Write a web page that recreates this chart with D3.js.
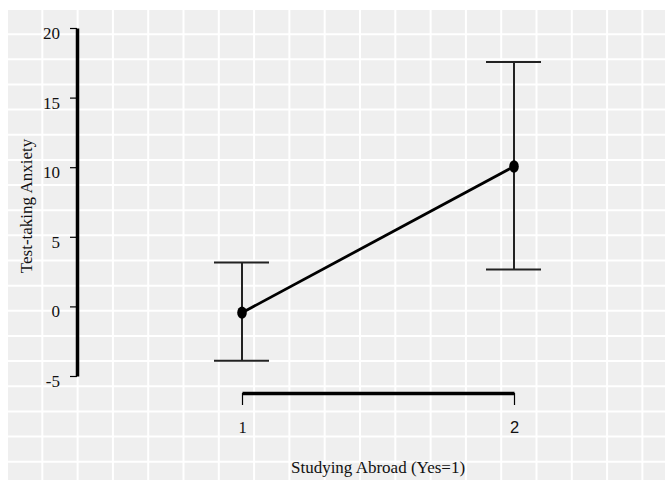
<!DOCTYPE html>
<html>
<head>
<meta charset="utf-8">
<script src="https://cdn.jsdelivr.net/npm/d3@7"></script>
<style>
  body { margin: 0; background: #fff; }
  svg { display: block; }
</style>
</head>
<body>
<div id="chart"></div>
<script>
// data
var groups = [1, 2];
var groupLabels = ["1", "2"];
var means = [-0.45, 10.05];
var upper = [3.15, 17.55];
var lower = [-3.9, 2.65];
var yTicks = [-5, 0, 5, 10, 15, 20];

var width = 665;
var height = 480;

var svg = d3.select("#chart").append("svg")
    .attr("width", width)
    .attr("height", height);

// grey panel with white grid behind everything
var bg = svg.append("g");
bg.append("rect")
    .attr("x", 7).attr("y", 9)
    .attr("width", width - 7).attr("height", height - 9)
    .attr("fill", "#efefef");
bg.selectAll("line.v").data(d3.range(7, width, 35.3)).enter().append("line")
    .attr("x1", function(d) { return d; }).attr("x2", function(d) { return d; })
    .attr("y1", 9).attr("y2", height)
    .attr("stroke", "#fff").attr("stroke-width", 2);
bg.selectAll("line.h").data(d3.range(9, height, 25.15)).enter().append("line")
    .attr("x1", 7).attr("x2", width)
    .attr("y1", function(d) { return d; }).attr("y2", function(d) { return d; })
    .attr("stroke", "#fff").attr("stroke-width", 2);

var x = d3.scaleLinear().domain([1, 2]).range([242, 514]);
var y = d3.scaleLinear().domain([-5, 20]).range([376, 28]);

var serif = "Liberation Serif, Times New Roman, serif";

// y axis
var yAxisG = svg.append("g")
    .attr("transform", "translate(77,0)")
    .call(d3.axisLeft(y).tickValues(yTicks).tickSize(7).tickSizeOuter(0).tickPadding(10)
        .tickFormat(function(d) { return String(d); }));
yAxisG.select(".domain").attr("stroke", "#000").attr("stroke-width", 3.5);
yAxisG.selectAll(".tick line").attr("stroke", "#000").attr("stroke-width", 1.2);
yAxisG.selectAll(".tick text")
    .attr("font-family", serif)
    .attr("font-size", 17)
    .attr("fill", "#111")
    .attr("dy", "0.62em");

// x axis
var xAxisG = svg.append("g")
    .attr("transform", "translate(0,393)")
    .call(d3.axisBottom(x).tickValues(groups).tickSize(12).tickSizeOuter(0).tickPadding(16)
        .tickFormat(function(d, i) { return groupLabels[i]; }));
xAxisG.select(".domain").attr("stroke", "#000").attr("stroke-width", 3.5);
xAxisG.selectAll(".tick line").attr("stroke", "#000").attr("stroke-width", 1.2);
xAxisG.selectAll(".tick text")
    .attr("font-family", function(d, i) { return i === 0 ? serif : "Liberation Sans, Arial, sans-serif"; })
    .attr("font-size", 16.5)
    .attr("fill", "#111");

// error bars
var bars = svg.append("g");
groups.forEach(function(g, i) {
    bars.append("line")
        .attr("x1", x(g)).attr("x2", x(g))
        .attr("y1", y(upper[i])).attr("y2", y(lower[i]))
        .attr("stroke", "#222").attr("stroke-width", 2);
    [upper[i], lower[i]].forEach(function(v) {
        bars.append("line")
            .attr("x1", x(g) - 28).attr("x2", x(g) + 27)
            .attr("y1", y(v)).attr("y2", y(v))
            .attr("stroke", "#222").attr("stroke-width", 2);
    });
});

// mean line and points
var line = d3.line()
    .x(function(d, i) { return x(groups[i]); })
    .y(function(d) { return y(d); });
svg.append("path")
    .datum(means)
    .attr("d", line)
    .attr("fill", "none")
    .attr("stroke", "#000")
    .attr("stroke-width", 2.8);

svg.selectAll("ellipse.pt").data(means).enter().append("ellipse")
    .attr("cx", function(d, i) { return x(groups[i]); })
    .attr("cy", function(d) { return y(d); })
    .attr("rx", 4.8).attr("ry", 6.2)
    .attr("fill", "#000");

// axis titles
svg.append("text")
    .attr("transform", "translate(32,206) rotate(-90)")
    .attr("text-anchor", "middle")
    .attr("font-family", serif)
    .attr("font-size", 17)
    .attr("fill", "#111")
    .text("Test-taking Anxiety");

svg.append("text")
    .attr("x", 378).attr("y", 473)
    .attr("text-anchor", "middle")
    .attr("font-family", serif)
    .attr("font-size", 17)
    .attr("fill", "#111")
    .text("Studying Abroad (Yes=1)");
</script>
</body>
</html>
